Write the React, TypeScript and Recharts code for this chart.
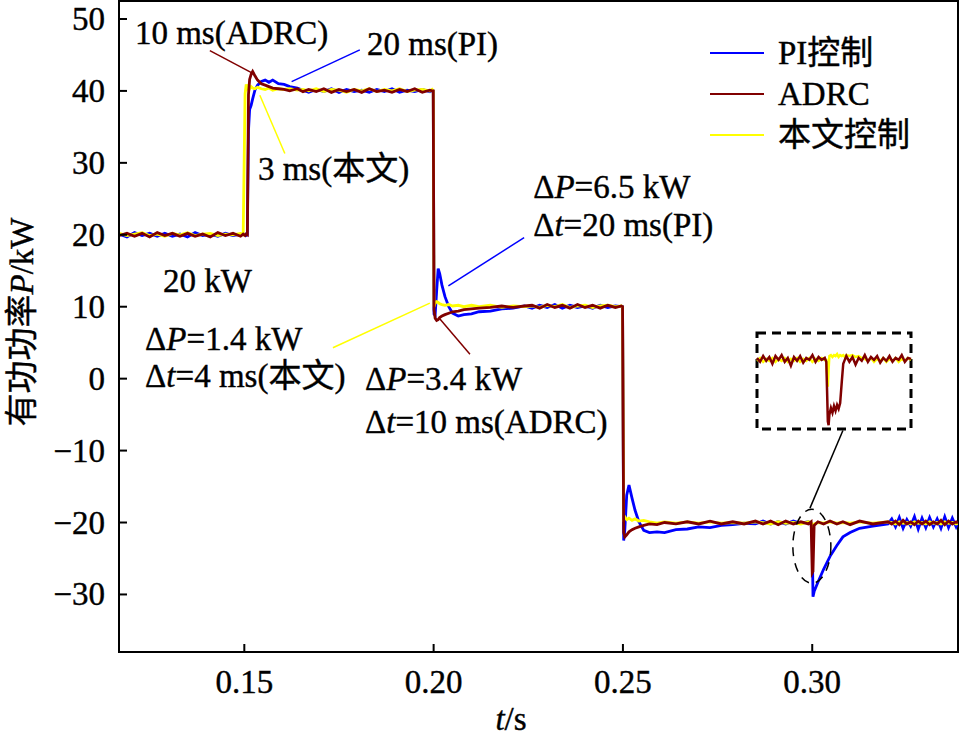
import React from 'react';
import {
  LineChart,
  Line,
  XAxis,
  YAxis,
  Label,
  Legend,
  ReferenceArea,
  ReferenceLine,
  ReferenceDot,
} from 'recharts';

// ---- main traces (t in s, P in kW) ----
const T_S = [
  // 20 kW
  0.117, 0.119, 0.121, 0.123, 0.125, 0.127, 0.129, 0.131, 0.133, 0.135, 0.137, 0.139, 0.141, 0.143, 0.145, 0.147, 0.149, 0.1497,
  // step to 40 kW
  0.1502, 0.1505, 0.1508, 0.1511, 0.1514, 0.1518, 0.1522, 0.1528, 0.1535, 0.1545, 0.1555, 0.1565, 0.1575, 0.159, 0.1605, 0.162, 0.164, 0.1655,
  // 40 kW
  0.167, 0.169, 0.171, 0.173, 0.175, 0.177, 0.179, 0.181, 0.183, 0.185, 0.187, 0.189, 0.191, 0.193, 0.195, 0.197, 0.199, 0.1996,
  // step to 10 kW
  0.1999, 0.2001, 0.2004, 0.2008, 0.2012, 0.2016, 0.2022, 0.203, 0.204, 0.205, 0.2065, 0.208, 0.21, 0.212, 0.215, 0.218, 0.221, 0.224,
  // 10 kW
  0.226, 0.228, 0.23, 0.232, 0.234, 0.236, 0.238, 0.24, 0.242, 0.244, 0.246, 0.248, 0.2496,
  // step to -20 kW
  0.2499, 0.2502, 0.2505, 0.251, 0.2516, 0.2524, 0.2532, 0.2542, 0.2555, 0.257, 0.259, 0.261, 0.264, 0.267, 0.27, 0.273, 0.276, 0.279, 0.282, 0.285,
  // -20 kW
  0.287, 0.289, 0.291, 0.293, 0.295, 0.297, 0.299, 0.2997,
  // disturbance at 0.30 s
  0.3, 0.3002, 0.3005, 0.3015, 0.303, 0.3047, 0.3065, 0.3081, 0.31, 0.3125, 0.316, 0.32,
  // tail
  0.321, 0.322, 0.323, 0.324, 0.325, 0.326, 0.327, 0.328, 0.329, 0.33, 0.331, 0.332, 0.333, 0.334, 0.335, 0.336, 0.337, 0.338, 0.3385,
];

const PI_KW = [
  20.1, 19.7, 20.3, 19.9, 20.2, 19.8, 20.2, 19.8, 20.1, 19.7, 20.3, 19.9, 20.1, 19.8, 20.2, 19.9, 20.1, 20.0,
  20.1, 19.9, 20.0, 34.5, 37.4, 38.0, 38.9, 40.1, 40.8, 41.3, 41.5, 41.2, 41.5, 41.0, 40.9, 40.6, 40.4, 40.1,
  39.8, 40.2, 39.9, 40.3, 39.8, 40.2, 39.9, 40.1, 39.8, 40.2, 39.9, 40.3, 39.8, 40.1, 39.9, 40.2, 39.9, 40.1,
  40.0, 9.0, 8.8, 12.2, 15.3, 14.6, 13.0, 11.4, 10.0, 9.1, 8.7, 8.9, 9.0, 9.3, 9.4, 9.7, 9.8, 10.1,
  9.8, 10.2, 9.9, 10.3, 9.8, 10.2, 9.9, 10.1, 9.8, 10.2, 9.9, 10.1, 10.0,
  10.0, -22.5, -21.0, -16.2, -14.8, -16.6, -18.3, -19.9, -21.1, -21.4, -21.3, -21.4, -21.0, -20.9, -20.6, -20.7, -20.4, -20.3, -20.1, -20.2,
  -19.8, -20.2, -19.9, -20.2, -19.8, -20.1, -19.9, -20.1,
  -22.5, -30.3, -29.6, -28.3, -26.5, -24.7, -23.2, -22.0, -21.4, -20.8, -20.5, -20.2,
  -19.5, -20.6, -19.3, -20.8, -19.6, -20.5, -19.2, -20.9, -19.4, -20.7, -19.3, -20.6, -19.5, -20.8, -19.2, -20.7, -19.4, -20.6, -20.0,
];

const ADRC_KW = [
  19.9, 20.2, 19.8, 20.2, 19.7, 20.3, 19.9, 20.2, 19.8, 20.2, 19.8, 20.1, 19.7, 20.3, 19.9, 20.2, 19.8, 20.1,
  19.9, 20.1, 20.0, 39.5, 41.6, 42.3, 42.7, 42.1, 41.5, 41.0, 40.8, 40.6, 40.4, 40.3, 40.2, 40.0, 40.3, 39.9,
  40.2, 39.9, 40.3, 39.8, 40.2, 39.9, 40.2, 39.8, 40.3, 39.9, 40.1, 39.8, 40.2, 39.9, 40.3, 39.8, 40.1, 40.0,
  40.0, 9.6, 8.4, 8.1, 8.2, 8.5, 8.7, 8.9, 9.1, 9.3, 9.4, 9.6, 9.7, 9.8, 9.9, 10.1, 9.9, 10.1,
  10.2, 9.8, 10.3, 9.9, 10.2, 9.8, 10.3, 9.9, 10.2, 9.8, 10.2, 9.9, 10.1,
  10.0, -21.4, -22.0, -21.7, -21.3, -21.0, -20.8, -20.6, -20.4, -20.2, -20.3, -20.0, -20.2, -19.9, -20.2, -19.8, -20.2, -19.9, -20.2, -19.8,
  -20.2, -19.8, -20.3, -19.8, -20.2, -19.9, -20.2, -19.9,
  -27.0, -26.8, -20.4, -19.9, -20.2, -19.8, -20.2, -19.9, -20.3, -19.8, -20.2, -19.9,
  -20.2, -19.8, -20.3, -19.7, -20.2, -19.9, -20.3, -19.8, -20.2, -19.8, -20.3, -19.9, -20.2, -19.7, -20.3, -19.8, -20.2, -19.9, -20.1,
];

const OURS_KW = [
  20.2, 19.9, 20.1, 20.3, 19.9, 20.1, 19.8, 20.2, 20.0, 20.3, 19.9, 20.1, 20.2, 19.9, 20.1, 20.0, 20.2, 20.0,
  39.6, 40.9, 40.4, 40.7, 40.3, 40.6, 40.4, 40.3, 40.5, 40.3, 40.2, 40.4, 40.1, 40.3, 40.2, 40.3, 40.1, 40.2,
  40.0, 40.3, 39.9, 40.2, 40.1, 39.8, 40.2, 40.0, 40.3, 39.9, 40.2, 40.0, 40.3, 39.9, 40.1, 40.2, 40.0, 40.2,
  40.0, 10.0, 10.5, 10.7, 10.6, 10.4, 10.3, 10.2, 10.3, 10.1, 10.2, 10.0, 10.2, 10.0, 10.2, 9.9, 10.1, 10.0,
  10.1, 9.9, 10.2, 10.0, 10.3, 9.9, 10.1, 10.2, 9.9, 10.1, 10.2, 10.0, 10.1,
  10.0, -19.4, -19.2, -19.6, -19.4, -19.7, -19.5, -19.8, -19.7, -19.9, -20.1, -19.9, -20.1, -19.9, -20.1, -19.9, -20.1, -20.0, -20.1, -19.9,
  -20.0, -20.2, -19.9, -20.1, -20.0, -20.2, -19.9, -20.0,
  -20.6, -20.9, -20.2, -20.0, -20.1, -19.9, -20.1, -20.0, -20.1, -19.9, -20.1, -19.9,
  -20.0, -20.2, -19.9, -20.1, -20.0, -20.2, -19.9, -20.1, -20.0, -20.2, -19.9, -20.1, -20.0, -20.2, -19.9, -20.1, -20.0, -20.2, -20.1,
];

const X_TICKS = [0.15, 0.2, 0.25, 0.3];
const Y_TICKS = [-30, -20, -10, 0, 10, 20, 30, 40, 50];

// ---- zoomed inset around the 0.30 s disturbance (relative units) ----
const INSET_X = [
  0, 2, 4, 6, 8, 10, 12, 14, 16, 18, 20, 22, 24, 26, 28, 30, 32, 34, 36, 38, 40, 42, 44,
  45, 45.5, 46, 46.5, 47, 48, 49, 50, 51, 52, 53, 54, 55, 56, 57,
  58, 60, 62, 64, 66, 68, 70, 72, 74, 76, 78, 80, 82, 84, 86, 88, 90, 92, 94, 96, 98, 100,
];
const INSET_ADRC = [
  74, 70, 76, 71, 75, 68, 76, 72, 77, 70, 74, 66, 75, 71, 76, 69, 74, 72, 77, 70, 75, 72, 74,
  70, 40, 8, 4, 15, 22, 17, 24, 19, 25, 21, 27, 48, 68, 72,
  76, 70, 75, 67, 74, 71, 77, 70, 75, 72, 76, 69, 74, 71, 76, 70, 74, 72, 77, 70, 74, 73,
];
const INSET_OURS = [
  71, 74, 70, 73, 71, 74, 70, 73, 71, 74, 70, 73, 71, 74, 70, 73, 71, 74, 70, 73, 71, 74, 72,
  72, 58, 44, 62, 76, 77, 75, 77, 76, 78, 75, 77, 76, 77, 75,
  77, 76, 77, 75, 76, 74, 73, 71, 74, 70, 73, 71, 74, 70, 73, 71, 74, 70, 73, 71, 74, 72,
];

const X_MIN = 0.1169;
const X_MAX = 0.3385;
const Y_MIN = -38;
const Y_MAX = 52.5;

const COLORS = { pi: '#0000FF', adrc: '#800000', ours: '#FFFF00' };
const SERIES = [
  { key: 'pi', name: 'PI控制', color: COLORS.pi },
  { key: 'adrc', name: 'ADRC', color: COLORS.adrc },
  { key: 'ours', name: '本文控制', color: COLORS.ours },
];

const FONT = '"Liberation Serif", "Times New Roman", "Noto Sans CJK SC", serif';
const FS = 33;
// slight outline so the glyphs read as heavy as the un-antialiased original
const TEXT_STYLE = { fontFamily: FONT, fontSize: FS, fill: '#000', stroke: '#000', strokeWidth: 0.4 };

type Part = [string, boolean?];

// annotation text, anchored at left/baseline in data coordinates
const NOTES: { t: number; v: number; parts: Part[] }[] = [
  { t: 0.1211, v: 46.5, parts: [['10 ms(ADRC)']] },
  { t: 0.1824, v: 45.0, parts: [['20 ms(PI)']] },
  { t: 0.1536, v: 27.6, parts: [['3 ms(本文)']] },
  { t: 0.2263, v: 25.1, parts: [['Δ'], ['P', true], ['=6.5 kW']] },
  { t: 0.2263, v: 19.8, parts: [['Δ'], ['t', true], ['=20 ms(PI)']] },
  { t: 0.1285, v: 12.0, parts: [['20 kW']] },
  { t: 0.1238, v: 4.0, parts: [['Δ'], ['P', true], ['=1.4 kW']] },
  { t: 0.1238, v: -1.1, parts: [['Δ'], ['t', true], ['=4 ms(本文)']] },
  { t: 0.1819, v: -1.6, parts: [['Δ'], ['P', true], ['=3.4 kW']] },
  { t: 0.1819, v: -7.5, parts: [['Δ'], ['t', true], ['=10 ms(ADRC)']] },
];

const LEADERS = [
  { a: [0.1409, 45.6], b: [0.152, 42.5], color: COLORS.adrc },
  { a: [0.1805, 45.7], b: [0.1625, 41.3], color: COLORS.pi },
  { a: [0.1607, 31.3], b: [0.1541, 39.4], color: COLORS.ours },
  { a: [0.2239, 19.6], b: [0.2039, 12.9], color: COLORS.pi },
  { a: [0.1734, 4.3], b: [0.199, 10.5], color: COLORS.ours },
  { a: [0.2096, 3.4], b: [0.2015, 8.4], color: COLORS.adrc },
  { a: [0.3081, -7.2], b: [0.2994, -18.0], color: '#000' },
];

const mainData = T_S.map((t, i) => ({ t, pi: PI_KW[i], adrc: ADRC_KW[i], ours: OURS_KW[i] }));
const insetData = INSET_X.map((x, i) => ({ x, adrc: INSET_ADRC[i], ours: INSET_OURS[i] }));

const fmtY = (v: number) => (v < 0 ? `\u2212${Math.abs(v)}` : `${v}`);

const YTick = ({ x, y, payload }: any) => (
  <g>
    <line x1={x} x2={x + 8} y1={y} y2={y} stroke="#000" strokeWidth={2} />
    <text x={x - 14} y={y} dy={11} textAnchor="end" style={TEXT_STYLE}>
      {fmtY(payload.value)}
    </text>
  </g>
);

const XTick = ({ x, y, payload }: any) => (
  <g>
    <line x1={x} x2={x} y1={y} y2={y - 8} stroke="#000" strokeWidth={2} />
    <text x={x} y={y + 41} textAnchor="middle" style={TEXT_STYLE}>
      {Number(payload.value).toFixed(2)}
    </text>
  </g>
);

const NoteText = ({ cx, cy, parts }: any) => (
  <text x={cx} y={cy} style={TEXT_STYLE}>
    {parts.map((p: Part, i: number) => (
      <tspan key={i} fontStyle={p[1] ? 'italic' : 'normal'}>
        {p[0]}
      </tspan>
    ))}
  </text>
);

const renderLegend = () => (
  <svg width={250} height={130}>
    {SERIES.map((s, i) => (
      <g key={s.key}>
        <line x1={10} x2={64} y1={25 + i * 41} y2={25 + i * 41} stroke={s.color} strokeWidth={2} />
        <text x={78} y={36 + i * 41} style={TEXT_STYLE}>
          {s.name}
        </text>
      </g>
    ))}
  </svg>
);

export default function App() {
  return (
    <div style={{ position: 'absolute', left: 0, top: 0, width: 962, height: 739, background: '#fff' }}>
      <LineChart width={962} height={739} data={mainData} margin={{ top: 1, right: 4, bottom: 0, left: 0 }}>
        <XAxis
          type="number"
          dataKey="t"
          domain={[X_MIN, X_MAX]}
          allowDataOverflow
          ticks={X_TICKS}
          interval={0}
          tick={<XTick />}
          tickLine={false}
          tickSize={0}
          tickMargin={0}
          height={87}
          axisLine={{ stroke: '#000', strokeWidth: 2 }}
        >
          <Label
            content={() => (
              <text x={511} y={730} textAnchor="middle" style={TEXT_STYLE}>
                <tspan fontStyle="italic">t</tspan>
                <tspan>/s</tspan>
              </text>
            )}
          />
        </XAxis>
        <YAxis
          type="number"
          domain={[Y_MIN, Y_MAX]}
          allowDataOverflow
          ticks={Y_TICKS}
          interval={0}
          tick={<YTick />}
          tickLine={false}
          tickSize={0}
          tickMargin={0}
          width={119}
          axisLine={{ stroke: '#000', strokeWidth: 2 }}
        >
          <Label
            content={() => (
              <text
                x={22}
                y={322}
                transform="rotate(-90 22 322)"
                textAnchor="middle"
                dominantBaseline="central"
                style={TEXT_STYLE}
              >
                <tspan>有功功率</tspan>
                <tspan fontStyle="italic">P</tspan>
                <tspan>/kW</tspan>
              </text>
            )}
          />
        </YAxis>
        <ReferenceArea x1={X_MIN} x2={X_MAX} y1={Y_MIN} y2={Y_MAX} fill="none" stroke="#000" strokeWidth={2} />
        <Legend
          content={renderLegend}
          layout="horizontal"
          verticalAlign="middle"
          align="center"
          wrapperStyle={{ left: 700, top: 28, width: 250, height: 130 }}
        />
        <Line type="linear" dataKey="pi" name="PI控制" stroke={COLORS.pi} strokeWidth={2.8} dot={false} isAnimationActive={false} />
        <Line type="linear" dataKey="ours" name="本文控制" stroke={COLORS.ours} strokeWidth={2.8} dot={false} isAnimationActive={false} />
        <Line type="linear" dataKey="adrc" name="ADRC" stroke={COLORS.adrc} strokeWidth={2.8} dot={false} isAnimationActive={false} />
        {LEADERS.map((l, i) => (
          <ReferenceLine
            key={`l${i}`}
            segment={[
              { x: l.a[0], y: l.a[1] },
              { x: l.b[0], y: l.b[1] },
            ]}
            stroke={l.color}
            strokeWidth={1.5}
          />
        ))}
        <ReferenceDot
          x={0.2999}
          y={-23.3}
          r={1}
          shape={(p: any) => (
            <ellipse cx={p.cx} cy={p.cy} rx={19} ry={37} fill="none" stroke="#000" strokeWidth={1.5} strokeDasharray="9 7" />
          )}
        />
        {NOTES.map((n, i) => (
          <ReferenceDot key={`n${i}`} x={n.t} y={n.v} r={1} shape={(p: any) => <NoteText cx={p.cx} cy={p.cy} parts={n.parts} />} />
        ))}
      </LineChart>

      <div style={{ position: 'absolute', left: 755, top: 331 }}>
        <LineChart width={158} height={100} data={insetData} margin={{ top: 2, right: 2, bottom: 2, left: 2 }}>
          <XAxis type="number" dataKey="x" domain={[0, 100]} hide />
          <YAxis type="number" domain={[0, 100]} hide />
          <Line type="linear" dataKey="ours" stroke={COLORS.ours} strokeWidth={2.5} dot={false} isAnimationActive={false} />
          <Line type="linear" dataKey="adrc" stroke={COLORS.adrc} strokeWidth={2.5} dot={false} isAnimationActive={false} />
          <ReferenceArea x1={0} x2={100} y1={0} y2={100} fill="none" stroke="#000" strokeWidth={3} strokeDasharray="9 6" />
        </LineChart>
      </div>
    </div>
  );
}
